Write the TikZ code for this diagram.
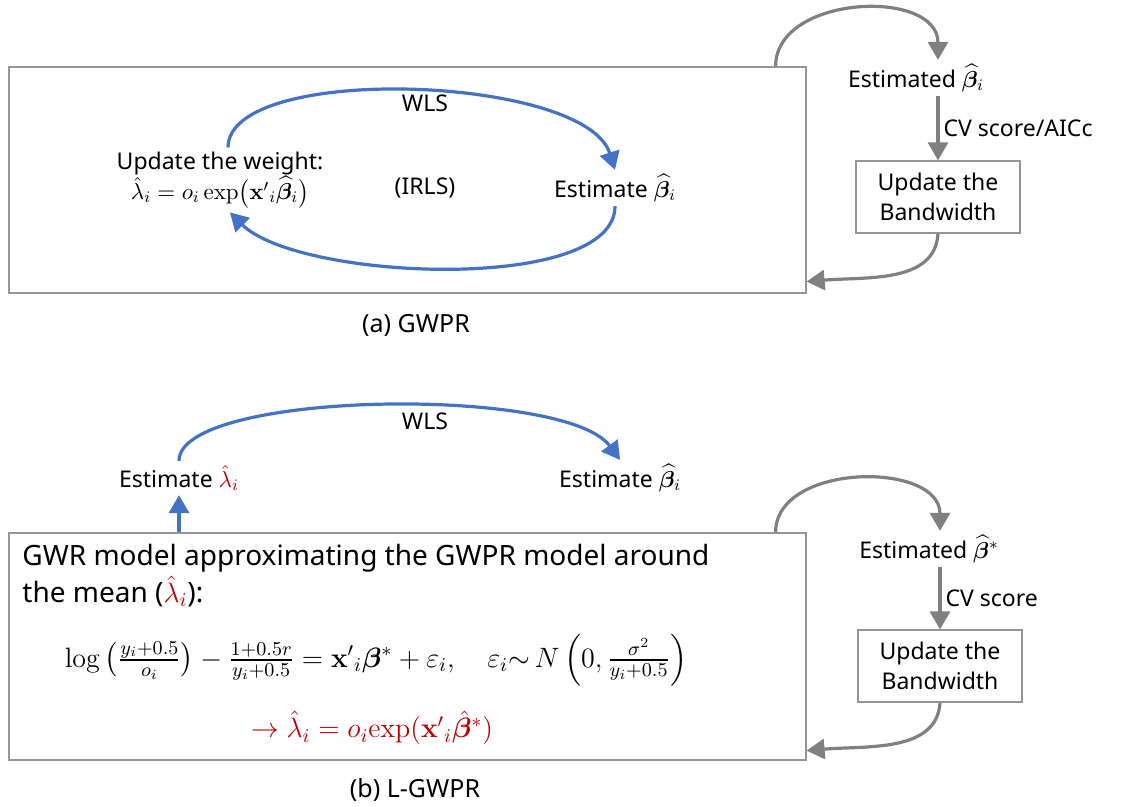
\documentclass[tikz,border=0pt]{standalone}
\usepackage{fix-cm}
\usepackage{amsmath}
\usepackage[no-math]{fontspec}
\setmainfont{Noto Sans}
\usepackage{bm}
\usetikzlibrary{positioning,arrows.meta}
\definecolor{loopBlue}{RGB}{68,114,196}
\definecolor{flowGray}{RGB}{128,128,128}
\definecolor{frameGray}{RGB}{150,150,150}
\definecolor{hatRed}{RGB}{192,0,0}
\tikzstyle{blueArrow} = [color=loopBlue, line width=1.6pt, -{Triangle[length=9pt, width=10pt]}]
\tikzstyle{grayArrow} = [color=flowGray, line width=1.6pt, -{Triangle[length=9pt, width=10pt]}]
\tikzstyle{frameStyle} = [draw=frameGray, line width=0.6pt, inner sep=0pt]
\tikzstyle{plainText} = [font=\fontsize{11.5}{15}\selectfont, align=center, inner sep=2pt, text=black]
\tikzstyle{boxText} = [font=\fontsize{14}{18.5}\selectfont, inner sep=3pt]
\tikzstyle{captionText} = [font=\fontsize{12.5}{14}\selectfont]
\tikzstyle{bandBox} = [frameStyle, plainText, minimum width=82pt, minimum height=36pt]
\newcommand{\bhat}{\widehat{\bm{\beta}}}
\newcommand{\xprime}{\mathbf{x}'{}_{i}}

\begin{document}
\begin{tikzpicture}[x=0.5pt, y=-0.5pt]
\useasboundingbox (0,0) rectangle (1125,807);

\node [frameStyle, minimum width=398.5pt, minimum height=113pt] (boxA) at (407.5,180) {};
\node [plainText] (wlsA) at (425,103) {WLS};
\node [plainText] (weight) at (220,180) {Update the weight:\\$\hat{\lambda}_i = o_i \exp\!\big(\xprime\bhat_i\big)$};
\node [plainText] (irls) at (425,188) {(IRLS)};
\node [plainText] (estA) at (615,188) {Estimate $\bhat_i$};
\draw [blueArrow] ([xshift=4pt]weight.north) .. controls +(0,-85) and +(-30,-95) .. (estA.north);
\draw [blueArrow] (estA.south) .. controls +(0,88) and +(68,68) .. ([xshift=5pt]weight.south);
\node [captionText] (capA) at (416,325) {(a) GWPR};

\node [plainText] (estB) at (916,78) {Estimated $\bhat_i$};
\node [bandBox] (bandA) at (938,197) {Update the\\Bandwidth};
\draw [grayArrow] ([xshift=-15.5pt]boxA.north east) .. controls +(0,-72) and +(0,-72) .. (estB.north -| bandA.north);
\draw [grayArrow] (estB.south -| bandA.north) -- (bandA.north) node [midway, right, plainText] (cvA) {CV score/AICc};
\draw [grayArrow] (bandA.south) .. controls +(-3,50) and +(60,-5) .. ([yshift=6pt]boxA.south east);

\node [frameStyle, minimum width=398.5pt, minimum height=113.5pt] (boxB) at (407.5,646.5) {};
\node [plainText] (wlsB) at (425,421) {WLS};
\node [plainText] (estL) at (179,478) {Estimate \textcolor{hatRed}{$\hat{\lambda}_i$}};
\node [plainText] (estC) at (620,478) {Estimate $\bhat_i$};
\draw [blueArrow] (estL.north) .. controls +(0,-70) and +(-55,-75) .. (estC.north);
\draw [blueArrow] (estL.south |- boxB.north) -- (estL.south);
\node [boxText, anchor=north west, align=left] (gwrText) at (16,538) {GWR model approximating the GWPR model around\\the mean (\textcolor{hatRed}{$\hat{\lambda}_i$}):};
\node [boxText] (logEq) at (376,660) {$\log\left(\frac{y_i+0.5}{o_i}\right) - \frac{1+0.5r}{y_i+0.5} = \xprime\bm{\beta}^{*} + \varepsilon_i, \quad \varepsilon_i{\sim}\, N\left(0,\frac{\sigma^2}{y_i+0.5}\right)$};
\node [boxText, text=hatRed] (lamEq) at (372,728) {$\rightarrow \hat{\lambda}_i = o_i\mathrm{exp}(\xprime\hat{\bm{\beta}}^{*})$};
\node [captionText] (capB) at (415,790) {(b) L-GWPR};

\node [plainText] (estD) at (929,549) {Estimated $\bhat^{*}$};
\node [bandBox] (bandB) at (940,666) {Update the\\Bandwidth};
\draw [grayArrow] ([xshift=-15.5pt]boxB.north east) .. controls +(0,-70) and +(0,-70) .. (estD.north -| bandB.north);
\draw [grayArrow] (estD.south -| bandB.north) -- (bandB.north) node [midway, right, plainText] (cvB) {CV score};
\draw [grayArrow] (bandB.south) .. controls +(-3,50) and +(60,-5) .. ([yshift=5pt]boxB.south east);
\end{tikzpicture}
\end{document}
